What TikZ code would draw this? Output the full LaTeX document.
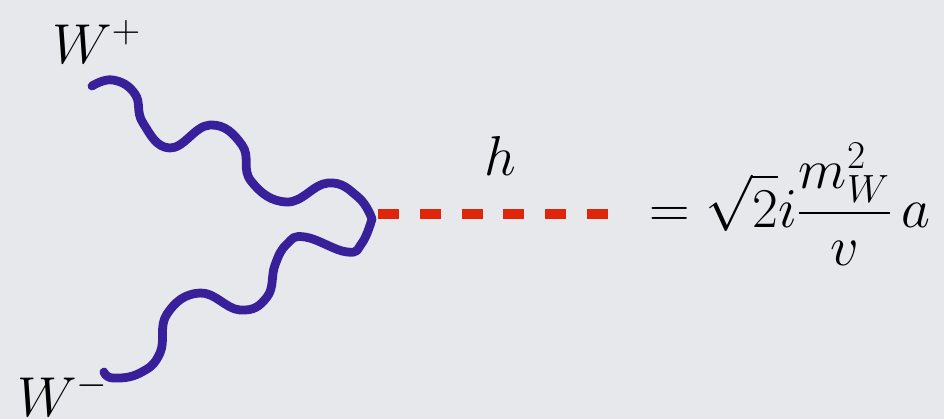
\RequirePackage{fix-cm}
\documentclass[tikz,border=0pt]{standalone}
\usepackage{tikz}
\usetikzlibrary{positioning}
\usepackage{amsmath}
\usepackage{xcolor}
\definecolor{fondo}{HTML}{E7E8EC}
\definecolor{violeta}{HTML}{37209A}
\definecolor{rojo}{HTML}{E0260A}
\tikzset{
  boson/.style={violeta, line width=5pt, line cap=round, line join=round},
  higgs/.style={rojo, line width=5.7pt, dash pattern=on 11.9pt off 11.9pt},
  etiqueta/.style={inner sep=0pt, anchor=base west}
}
\begin{document}
\begin{tikzpicture}[x=0.02cm, y=-0.02cm, font=\fontsize{32}{38}\selectfont]
    \fill[fondo] (0,0) rectangle (944,419);
    \useasboundingbox (0,0) rectangle (944,419);
    % vertice y extremos
    \coordinate (v) at (372,219);
    \coordinate (wp) at (92,86);
    \coordinate (wm) at (104,372);
    \coordinate (hs) at (378,214);
    \coordinate (he) at (612,214);
    % bosones W
    \draw[boson] plot[smooth, tension=0.75] coordinates {(wp) (113,80) (135,94) (143,123)
      (170,148) (210,125) (242,145) (251,181) (287,202) (328,183)
      (358,197) (v)};
    \draw[boson] plot[smooth, tension=0.75] coordinates {(wm) (113,378) (140,373) (160,353)
      (167,314) (200,293) (240,310) (267,297) (275,265) (287,244) (305,237) (347,252)
      (362,243) (v)};
    % higgs
    \draw[higgs] (hs) -- (he);
    \node[etiqueta] (lwp) at (52,63) {$W^+$};
    \node[etiqueta] (lwm) at (17,416) {$W^-$};
    \node[etiqueta] (lh) at (484,175) {$h$};
    \node[etiqueta] (regla) at (649,227) {$\displaystyle =\sqrt{2}i\frac{m_W^2}{v}\,a$};
  \end{tikzpicture}
\end{document}
